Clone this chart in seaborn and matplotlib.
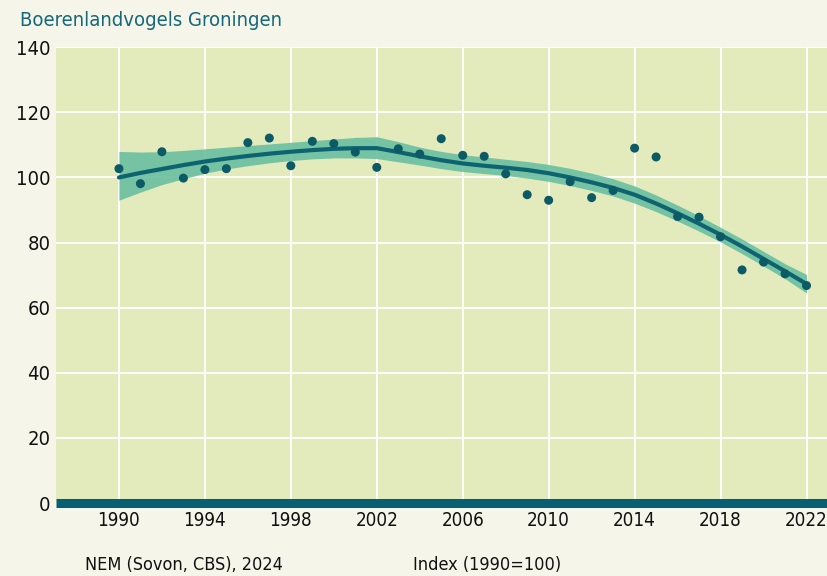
import numpy as np
import pandas as pd
import matplotlib
matplotlib.use("Agg")
import matplotlib.pyplot as plt
import seaborn as sns

# yearly index values (dots)
years = list(range(1990, 2023))
index_values = [102.7, 98.1, 107.9, 99.8, 102.4, 102.7, 110.7, 112.1, 103.6, 111.1,
                110.4, 107.8, 103.1, 108.8, 107.2, 111.9, 106.8, 106.5, 101.1, 94.7,
                93.0, 98.7, 93.8, 96.0, 109.0, 106.3, 88.0, 87.8, 81.8, 71.6,
                74.0, 70.4, 66.8]

# smoothed trend and its confidence band
trend = [100.0, 101.4, 102.6, 103.8, 104.9, 105.8, 106.6, 107.3, 107.9, 108.4,
         108.8, 109.0, 109.0, 107.8, 106.5, 105.3, 104.3, 103.6, 103.0, 102.3,
         101.3, 100.0, 98.5, 96.8, 94.7, 92.0, 89.0, 85.8, 82.4, 78.8,
         75.0, 71.2, 67.3]
lower = [93.0, 95.5, 97.8, 99.6, 101.3, 102.6, 103.6, 104.5, 105.2, 105.7,
         106.0, 106.0, 105.8, 104.8, 103.8, 102.7, 101.8, 101.2, 100.6, 99.8,
         98.8, 97.5, 96.0, 94.3, 92.1, 89.5, 86.6, 83.5, 80.2, 76.6,
         72.8, 68.9, 64.5]
upper = [108.0, 107.8, 107.9, 108.3, 108.8, 109.3, 109.8, 110.3, 110.8, 111.3,
         111.8, 112.3, 112.5, 111.0, 109.3, 108.0, 107.0, 106.3, 105.6, 104.9,
         104.0, 102.8, 101.3, 99.6, 97.4, 94.6, 91.5, 88.2, 84.7, 81.1,
         77.3, 73.5, 70.2]

x_ticks = list(range(1990, 2023, 4))
y_ticks = list(range(0, 141, 20))

df = pd.DataFrame({"year": years, "index": index_values, "trend": trend,
                   "lower": lower, "upper": upper})

bg = "#f5f6e9"
plot_bg = "#e3ebbd"
teal = "#0d6470"
band = "#62bc9f"

sns.set_style("white")
plt.rcParams["font.family"] = ["DejaVu Sans"]
plt.rcParams["font.stretch"] = "condensed"

fig = plt.figure(figsize=(8.28, 5.76), dpi=100, facecolor=bg)
ax = fig.add_axes([0.0676, 0.1267, 0.9324, 0.7913])
ax.set_facecolor(plot_bg)

ax.fill_between(df["year"], df["lower"], df["upper"], color=band, alpha=0.85,
                linewidth=0, zorder=2)
sns.lineplot(data=df, x="year", y="trend", ax=ax, color=teal, linewidth=3.0, zorder=3)
sns.scatterplot(data=df, x="year", y="index", ax=ax, color="#0b5a66", s=42,
                edgecolor="none", zorder=4)

ax.set_xlim(1987.07, 2023.0)
ax.set_ylim(0, 140)
ax.set_xticks(x_ticks)
ax.set_yticks(y_ticks)
ax.grid(True, color="white", linewidth=1.3, zorder=1)
ax.set_axisbelow(True)
for s in ax.spines.values():
    s.set_visible(False)
ax.axhline(0, color="#085f73", linewidth=6.5, clip_on=False, zorder=5,
           solid_capstyle="butt")

ax.tick_params(axis="both", length=0, labelcolor="#111111")
ax.tick_params(axis="x", pad=6, labelsize=13.5)
ax.tick_params(axis="y", pad=4, labelsize=14.5)
ax.set_xlabel("")
ax.set_ylabel("")

fig.text(0.024, 0.965, "Boerenlandvogels Groningen", color="#17677a", fontsize=14.5,
         va="center", ha="left")
fig.text(0.103, 0.004, "NEM (Sovon, CBS), 2024", color="#111111", fontsize=13,
         va="bottom", ha="left")
fig.text(0.499, 0.004, "Index (1990=100)", color="#111111", fontsize=13,
         va="bottom", ha="left")

fig.savefig("out.png", dpi=100, facecolor=bg)
